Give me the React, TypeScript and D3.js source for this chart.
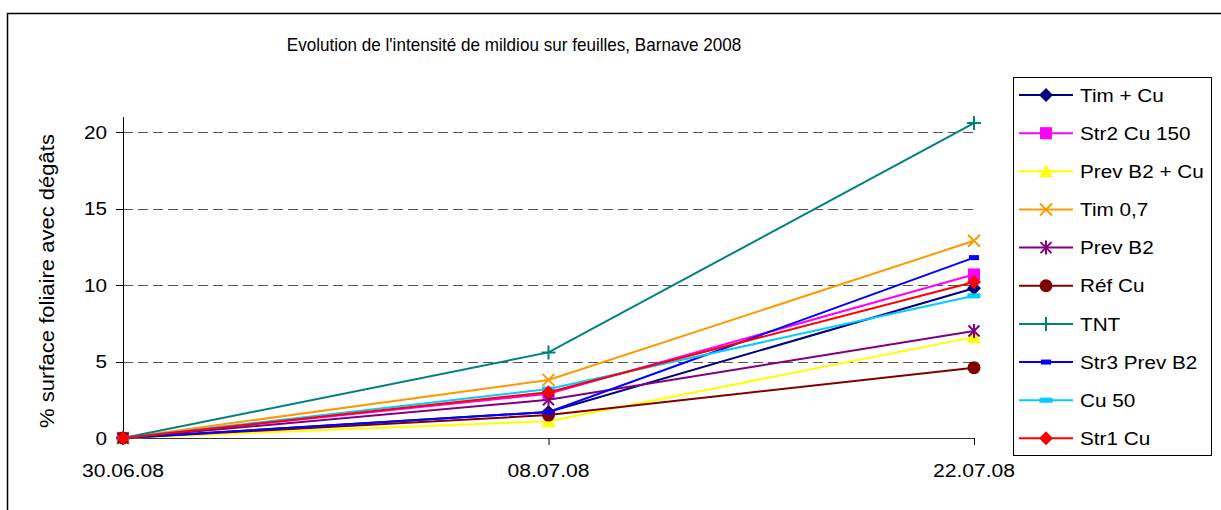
import React from 'react'
import * as d3 from 'd3'

// categories (sampling dates)
const dates = ['30.06.08', '08.07.08', '22.07.08']

// series values, % leaf surface with damage
const timCu = [0, 1.7, 9.8]
const str2Cu150 = [0, 2.9, 10.7]
const prevB2Cu = [0, 1.1, 6.6]
const tim07 = [0, 3.8, 12.9]
const prevB2 = [0, 2.5, 7.0]
const refCu = [0, 1.5, 4.6]
const tnt = [0, 5.6, 20.6]
const str3PrevB2 = [0, 1.7, 11.8]
const cu50 = [0, 3.2, 9.3]
const str1Cu = [0, 3.0, 10.2]

const yTicks = [0, 5, 10, 15, 20]

type Marker = 'diamond' | 'square' | 'triangle' | 'x' | 'star' | 'circle' | 'plus' | 'dash' | 'longdash'

const series: { name: string; values: number[]; color: string; marker: Marker }[] = [
    { name: 'Tim + Cu', values: timCu, color: '#000080', marker: 'diamond' },
    { name: 'Str2 Cu 150', values: str2Cu150, color: '#FF00FF', marker: 'square' },
    { name: 'Prev B2 + Cu', values: prevB2Cu, color: '#FFFF00', marker: 'triangle' },
    { name: 'Tim 0,7', values: tim07, color: '#FF9900', marker: 'x' },
    { name: 'Prev B2', values: prevB2, color: '#800080', marker: 'star' },
    { name: 'Réf Cu', values: refCu, color: '#800000', marker: 'circle' },
    { name: 'TNT', values: tnt, color: '#008080', marker: 'plus' },
    { name: 'Str3 Prev B2', values: str3PrevB2, color: '#0000FF', marker: 'dash' },
    { name: 'Cu 50', values: cu50, color: '#00CCFF', marker: 'longdash' },
    { name: 'Str1 Cu', values: str1Cu, color: '#FF0000', marker: 'diamond' },
]

const FONT = '"Liberation Sans", Arial, sans-serif'

const drawMarker = (m: Marker, x: number, y: number, c: string, key?: string) => {
    switch (m) {
        case 'diamond':
            return <path key={key} d={`M${x},${y - 7}L${x + 7},${y}L${x},${y + 7}L${x - 7},${y}Z`} fill={c} />
        case 'square':
            return <rect key={key} x={x - 6} y={y - 6} width={12} height={12} fill={c} />
        case 'triangle':
            return <path key={key} d={`M${x},${y - 7}L${x + 7},${y + 6}L${x - 7},${y + 6}Z`} fill={c} />
        case 'x':
            return <path key={key} d={`M${x - 6},${y - 6}L${x + 6},${y + 6}M${x - 6},${y + 6}L${x + 6},${y - 6}`} stroke={c} strokeWidth={2} fill="none" />
        case 'star':
            return <path key={key} d={`M${x - 5.5},${y - 5.5}L${x + 5.5},${y + 5.5}M${x - 5.5},${y + 5.5}L${x + 5.5},${y - 5.5}M${x},${y - 7}L${x},${y + 7}`} stroke={c} strokeWidth={2} fill="none" />
        case 'circle':
            return <circle key={key} cx={x} cy={y} r={6.5} fill={c} />
        case 'plus':
            return <path key={key} d={`M${x - 7},${y}L${x + 7},${y}M${x},${y - 7}L${x},${y + 7}`} stroke={c} strokeWidth={2} fill="none" />
        case 'dash':
            return <rect key={key} x={x - 5} y={y - 2.5} width={10} height={5} fill={c} />
        case 'longdash':
            return <rect key={key} x={x - 6.5} y={y - 2.5} width={13} height={5} fill={c} />
    }
}

// text slightly wider than the font, like the Excel export
const SText: React.FC<{ x: number; y: number; sx?: number; size: number; anchor?: string; rotate?: number; children: React.ReactNode }> = ({ x, y, sx = 1.12, size, anchor = 'start', rotate = 0, children }) => (
    <g transform={`translate(${x},${y}) rotate(${rotate}) scale(${sx},1)`}>
        <text x={0} y={0} fontSize={size} fontFamily={FONT} textAnchor={anchor} fill="#000">{children}</text>
    </g>
)

export default function App() {
    const width = 1221
    const height = 510

    const x = d3.scalePoint<string>().domain(dates).range([123, 974])
    const y = d3.scaleLinear().domain([0, 21]).range([438, 117])

    const line = d3.line<number>()
        .x((_, i) => x(dates[i]) as number)
        .y(d => y(d))

    const legendX = 1013
    const legendY = 77
    const rowStep = 38.15

    return (
        <svg width={width} height={height} style={{ position: 'absolute', left: 0, top: 0, background: '#fff' }}>
            <rect x={0} y={0} width={width} height={height} fill="#fff" />
            {/* outer chart frame */}
            <rect x={7.5} y={13.5} width={1300} height={600} fill="none" stroke="#000" strokeWidth={1.5} />

            {/* title */}
            <SText x={514} y={51} size={18} sx={0.95} anchor="middle">Evolution de l'intensité de mildiou sur feuilles, Barnave 2008</SText>

            {/* gridlines */}
            {yTicks.filter(t => t > 0).map(t => (
                <line key={t} x1={123} x2={974} y1={Math.round(y(t)) + 0.5} y2={Math.round(y(t)) + 0.5} stroke="#555" strokeDasharray="10,5" />
            ))}

            {/* y axis */}
            <line x1={123.5} x2={123.5} y1={117} y2={438} stroke="#000" />
            {yTicks.map(t => (
                <g key={t}>
                    <line x1={116} x2={123} y1={Math.round(y(t)) + 0.5} y2={Math.round(y(t)) + 0.5} stroke="#000" />
                    <SText x={107} y={y(t) + 6.5} size={18.5} sx={1.12} anchor="end">{t}</SText>
                </g>
            ))}
            <SText x={54} y={281} size={19.5} sx={1.13} anchor="middle" rotate={-90}>% surface foliaire avec dégâts</SText>

            {/* x axis */}
            <line x1={123} x2={974} y1={438.5} y2={438.5} stroke="#333" strokeWidth={1.2} />
            {dates.map(d => (
                <g key={d}>
                    <line x1={(x(d) as number) + 0.5} x2={(x(d) as number) + 0.5} y1={438} y2={445} stroke="#000" />
                    <SText x={x(d) as number} y={477} size={18.5} sx={1.14} anchor="middle">{d}</SText>
                </g>
            ))}

            {/* series */}
            {series.map(s => (
                <g key={s.name}>
                    <path d={line(s.values) || ''} fill="none" stroke={s.color} strokeWidth={2} />
                    {s.values.map((v, i) => drawMarker(s.marker, x(dates[i]) as number, y(v), s.color, `${s.name}-${i}`))}
                </g>
            ))}

            {/* legend */}
            <rect x={legendX + 0.5} y={legendY + 0.5} width={198} height={378} fill="#fff" stroke="#000" />
            {series.map((s, i) => {
                const cy = 95 + i * rowStep
                return (
                    <g key={s.name}>
                        <line x1={1019} x2={1073} y1={cy} y2={cy} stroke={s.color} strokeWidth={2} />
                        {drawMarker(s.marker, 1046, cy, s.color)}
                        <SText x={1080} y={cy + 6.7} size={18.5} sx={1.12}>{s.name}</SText>
                    </g>
                )
            })}
        </svg>
    )
}
